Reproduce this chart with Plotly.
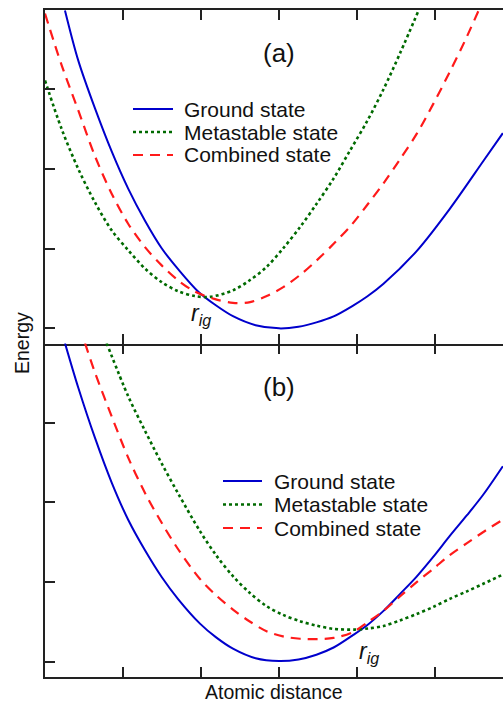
import plotly.graph_objects as go
from plotly.subplots import make_subplots

# ---------------- data ----------------
# Panel (a)
a_ground_x = [0.256, 0.427, 0.641, 0.855, 1.068, 1.282, 1.496, 1.709, 1.966, 2.19, 2.41, 2.7, 3.0, 3.25, 3.48, 3.7, 3.94, 4.13, 4.34, 4.765, 5.19, 5.62, 5.87]
a_ground_y = [3.99, 3.36, 2.76, 2.22, 1.75, 1.35, 1.005, 0.74, 0.46, 0.29, 0.153, 0.04, 0.0, 0.02, 0.075, 0.15, 0.28, 0.40, 0.56, 0.97, 1.50, 2.10, 2.45]

a_meta_x = [0.0, 0.214, 0.427, 0.641, 0.855, 1.068, 1.282, 1.496, 1.709, 1.923, 2.115, 2.41, 2.62, 2.84, 3.05, 3.27, 3.48, 3.70, 3.91, 4.13, 4.34, 4.56, 4.79]
a_meta_y = [3.11, 2.50, 2.00, 1.58, 1.23, 0.98, 0.75, 0.58, 0.465, 0.405, 0.395, 0.477, 0.60, 0.77, 1.00, 1.27, 1.56, 1.88, 2.23, 2.60, 3.00, 3.47, 3.99]

a_comb_x = [0.0, 0.214, 0.427, 0.641, 0.855, 1.068, 1.282, 1.496, 1.709, 1.923, 2.17, 2.41, 2.63, 2.85, 3.06, 3.27, 3.48, 3.71, 3.94, 4.14, 4.34, 4.55, 4.765, 4.98, 5.19, 5.38, 5.56]
a_comb_y = [3.95, 3.30, 2.735, 2.16, 1.69, 1.31, 1.02, 0.79, 0.60, 0.46, 0.37, 0.32, 0.33, 0.41, 0.52, 0.67, 0.85, 1.07, 1.31, 1.56, 1.82, 2.12, 2.44, 2.82, 3.22, 3.60, 3.99]

# Panel (b)
b_ground_x = [0.256, 0.427, 0.641, 0.855, 1.068, 1.282, 1.496, 1.709, 1.987, 2.19, 2.41, 2.7, 3.0, 3.25, 3.48, 3.7, 3.94, 4.13, 4.34, 4.55, 4.765, 4.98, 5.19, 5.41, 5.62, 5.87]
b_ground_y = [4.0, 3.44, 2.81, 2.25, 1.78, 1.40, 1.065, 0.785, 0.48, 0.31, 0.165, 0.045, 0.01, 0.03, 0.09, 0.18, 0.33, 0.46, 0.64, 0.85, 1.07, 1.32, 1.58, 1.84, 2.10, 2.455]

b_meta_x = [0.79, 1.068, 1.282, 1.496, 1.709, 1.987, 2.2, 2.41, 2.62, 2.84, 3.05, 3.27, 3.48, 3.70, 3.97, 4.15, 4.34, 4.55, 4.765, 4.98, 5.19, 5.41, 5.62, 5.87]
b_meta_y = [4.0, 3.33, 2.90, 2.49, 2.11, 1.64, 1.33, 1.075, 0.87, 0.70, 0.59, 0.51, 0.455, 0.414, 0.405, 0.42, 0.45, 0.52, 0.60, 0.69, 0.79, 0.885, 0.98, 1.095]

b_comb_x = [0.513, 0.641, 0.855, 1.068, 1.282, 1.496, 1.709, 1.987, 2.2, 2.41, 2.62, 2.84, 3.05, 3.27, 3.48, 3.70, 3.94, 4.14, 4.34, 4.55, 4.765, 4.98, 5.19, 5.41, 5.62, 5.87]
b_comb_y = [4.0, 3.63, 3.08, 2.56, 2.12, 1.745, 1.41, 1.04, 0.83, 0.656, 0.51, 0.385, 0.32, 0.29, 0.285, 0.30, 0.37, 0.50, 0.64, 0.82, 1.00, 1.17, 1.34, 1.49, 1.63, 1.785]

series_names = ["Ground state", "Metastable state", "Combined state"]
x_ticks = [1, 2, 3, 4, 5]
y_ticks = [0, 1, 2, 3]
panel_labels = ["(a)", "(b)"]
rig_pos = [(2.0, 0.17), (4.15, 0.12)]  # label anchor positions (data units)

BLUE = "#0000CC"
GREEN = "#006A00"
RED = "#FF1A1A"
TXT = "#111111"
FONT = "Liberation Sans, Arial, sans-serif"

# plot-area geometry (pixels) used to place legend pieces in paper coords
L, R, T, B = 45, 503, 10, 677
def px(xp):
    return (xp - L) / (R - L)
def py(yp):
    return (B - yp) / (B - T)

fig = make_subplots(rows=2, cols=1, shared_xaxes=True, vertical_spacing=0)

styles = [
    dict(color=BLUE, width=2, dash="solid"),
    dict(color=GREEN, width=2.6, dash="dot"),
    dict(color=RED, width=2.2, dash="10px,7px"),
]

panel_a = [(a_ground_x, a_ground_y), (a_meta_x, a_meta_y), (a_comb_x, a_comb_y)]
panel_b = [(b_ground_x, b_ground_y), (b_meta_x, b_meta_y), (b_comb_x, b_comb_y)]

for row, data in enumerate([panel_a, panel_b], start=1):
    for (xs, ys), name, st in zip(data, series_names, styles):
        fig.add_trace(
            go.Scatter(x=xs, y=ys, mode="lines", name=name,
                       line=dict(shape="spline", smoothing=0.9, **st),
                       showlegend=False, hoverinfo="skip"),
            row=row, col=1,
        )

axis_common = dict(showline=True, linecolor="#222222", linewidth=2,
                   ticks="inside", ticklen=10, tickwidth=1.6, tickcolor="#222222",
                   showticklabels=False, showgrid=False, zeroline=False)

fig.update_xaxes(range=[0, 5.872], tickmode="array", tickvals=x_ticks, **axis_common)
fig.update_layout(xaxis=dict(mirror="ticks"), xaxis2=dict(mirror=False))
fig.update_yaxes(range=[-0.19, 3.995], tickmode="array", tickvals=y_ticks,
                 mirror=False, **axis_common)

# extra tick-only axis on the top edge of panel (b)
fig.update_layout(xaxis3=dict(overlaying="x2", anchor="y2", side="top",
                              range=[0, 5.872], tickmode="array", tickvals=x_ticks,
                              ticks="inside", ticklen=10, tickwidth=1.6,
                              tickcolor="#222222", showline=False,
                              showticklabels=False, showgrid=False, zeroline=False))
fig.add_trace(go.Scatter(x=[None], y=[None], xaxis="x3", yaxis="y2",
                         showlegend=False, hoverinfo="skip"))

# panel labels
for i, lab in enumerate(panel_labels):
    fig.add_annotation(text=lab, x=3.0, y=3.45, xref="x" if i == 0 else "x2",
                       yref="y" if i == 0 else "y2", showarrow=False,
                       font=dict(size=26, family=FONT, color=TXT))

# r_ig labels
for i, (rx, ry) in enumerate(rig_pos):
    fig.add_annotation(text="<i>r</i><sub><i>ig</i></sub>", x=rx, y=ry,
                       xref="x" if i == 0 else "x2", yref="y" if i == 0 else "y2",
                       showarrow=False, font=dict(size=23, family=FONT, color=TXT))

# legends (drawn as line samples + labels)
legend_specs = [  # (line x0, line x1, text x, first row y, row step) in pixels
    (133, 173, 182, 109, 23),
    (223, 262, 272, 481, 23.5),
]
for (lx0, lx1, tx, y0, dy) in legend_specs:
    for k, (name, st) in enumerate(zip(series_names, styles)):
        yy = y0 + k * dy
        fig.add_shape(type="line", xref="paper", yref="paper",
                      x0=px(lx0), x1=px(lx1), y0=py(yy), y1=py(yy),
                      line=dict(color=st["color"], width=st["width"], dash=st["dash"]))
        fig.add_annotation(text=name, x=px(tx), y=py(yy), xref="paper", yref="paper",
                           xanchor="left", yanchor="middle", showarrow=False,
                           font=dict(size=21, family=FONT, color=TXT))

# axis titles
fig.add_annotation(text="Energy", x=px(22), y=py(343), xref="paper", yref="paper",
                   textangle=-90, showarrow=False, xanchor="center", yanchor="middle",
                   font=dict(size=19.5, family=FONT, color=TXT))
fig.add_annotation(text="Atomic distance", x=px(274), y=py(692),
                   xref="paper", yref="paper", showarrow=False,
                   xanchor="center", yanchor="middle",
                   font=dict(size=19.5, family=FONT, color=TXT))

fig.update_layout(
    width=503, height=705,
    margin=dict(l=45, r=0, t=10, b=28),
    paper_bgcolor="white", plot_bgcolor="white",
    font=dict(family=FONT),
    showlegend=False,
)

fig.write_html("out.html")
